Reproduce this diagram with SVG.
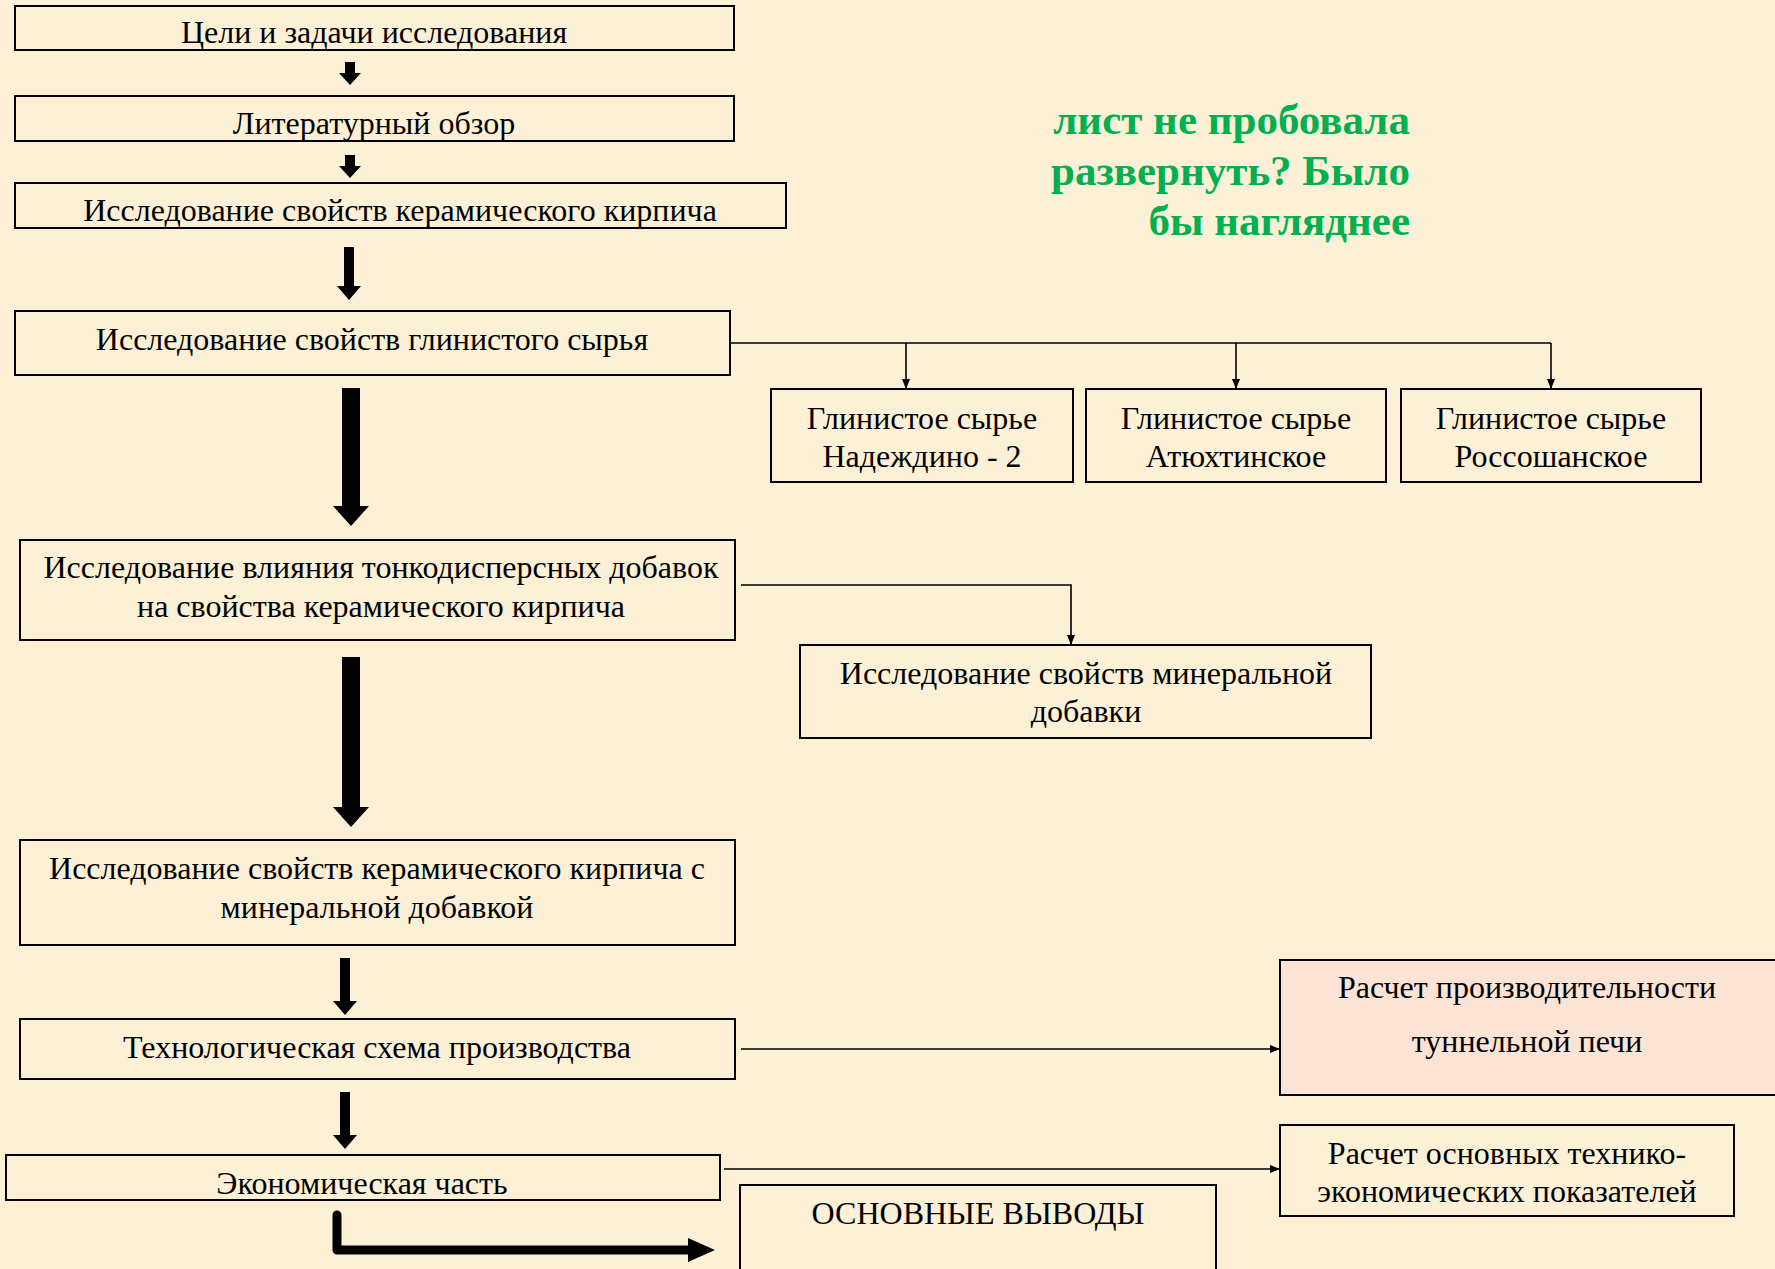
<svg xmlns="http://www.w3.org/2000/svg" width="1775" height="1269" viewBox="0 0 1775 1269">
<defs>
<marker id="ah" viewBox="0 0 10 10" refX="10" refY="5" markerWidth="10" markerHeight="10" markerUnits="userSpaceOnUse" orient="auto">
<path d="M0,1 L10,5 L0,9 Z" fill="#000"/>
</marker>
</defs>
<style>
.box{fill:none;stroke:#000;stroke-width:2}
.t{font-family:"Liberation Serif","Times New Roman",serif;font-size:32px;fill:#000;text-anchor:middle}
.thin{fill:none;stroke:#000;stroke-width:1.6;marker-end:url(#ah)}
.blk{fill:#000}
.note{font-family:"Liberation Serif","Times New Roman",serif;font-size:43px;font-weight:bold;fill:#00B050;text-anchor:end}
</style>
<rect width="1775" height="1269" fill="#FCF0D6"/>

<g id="n1"><rect class="box" x="15" y="6" width="719" height="44"/><text class="t" x="374" y="43">Цели и задачи исследования</text></g>
<g id="n2"><rect class="box" x="15" y="96" width="719" height="45"/><text class="t" x="374" y="134">Литературный обзор</text></g>
<g id="n3"><rect class="box" x="15" y="183" width="771" height="45"/><text class="t" x="400" y="221">Исследование свойств керамического кирпича</text></g>
<g id="n4"><rect class="box" x="15" y="311" width="715" height="64"/><text class="t" x="372" y="350">Исследование свойств глинистого сырья</text></g>
<g id="n5"><rect class="box" x="771" y="389" width="302" height="93"/><text class="t" x="922" y="429">Глинистое сырье</text><text class="t" x="922" y="467">Надеждино - 2</text></g>
<g id="n6"><rect class="box" x="1086" y="389" width="300" height="93"/><text class="t" x="1236" y="429">Глинистое сырье</text><text class="t" x="1236" y="467">Атюхтинское</text></g>
<g id="n7"><rect class="box" x="1401" y="389" width="300" height="93"/><text class="t" x="1551" y="429">Глинистое сырье</text><text class="t" x="1551" y="467">Россошанское</text></g>
<g id="n8"><rect class="box" x="20" y="540" width="715" height="100"/><text class="t" x="381" y="578">Исследование влияния тонкодисперсных добавок</text><text class="t" x="381" y="617">на свойства керамического кирпича</text></g>
<g id="n9"><rect class="box" x="800" y="645" width="571" height="93"/><text class="t" x="1086" y="684">Исследование свойств минеральной</text><text class="t" x="1086" y="722">добавки</text></g>
<g id="n10"><rect class="box" x="20" y="840" width="715" height="105"/><text class="t" x="377" y="879">Исследование свойств керамического кирпича с</text><text class="t" x="377" y="918">минеральной добавкой</text></g>
<g id="n11"><rect class="box" x="20" y="1019" width="715" height="60"/><text class="t" x="377" y="1058">Технологическая схема производства</text></g>
<g id="n12"><rect x="1280" y="960" width="500" height="135" fill="#FBE4D5" stroke="#000" stroke-width="2"/><text class="t" x="1527" y="998">Расчет производительности</text><text class="t" x="1527" y="1052">туннельной печи</text></g>
<g id="n13"><rect class="box" x="6" y="1155" width="714" height="45"/><text class="t" x="362" y="1194">Экономическая часть</text></g>
<g id="n14"><rect class="box" x="1280" y="1125" width="454" height="91"/><text class="t" x="1507" y="1164">Расчет основных технико-</text><text class="t" x="1507" y="1202">экономических показателей</text></g>
<g id="n15"><rect class="box" x="740" y="1185" width="476" height="100"/><text class="t" x="978" y="1224">ОСНОВНЫЕ ВЫВОДЫ</text></g>

<g id="note"><text class="note" x="1410" y="134">лист не пробовала</text><text class="note" x="1410" y="185">развернуть? Было</text><text class="note" x="1410" y="235">бы нагляднее</text></g>

<g id="connectors">
<path class="blk" d="M345,62 H355 V73 H361 L350,85 L339,73 H345 Z"/>
<path class="blk" d="M345,155 H355 V166 H361 L350,178 L339,166 H345 Z"/>
<path class="blk" d="M344,247 H354 V286 H361 L349,300 L337,286 H344 Z"/>
<path class="blk" d="M342,388 H360 V506 H369 L351,526 L333,506 H342 Z"/>
<path class="blk" d="M342,657 H360 V807 H369 L351,827 L333,807 H342 Z"/>
<path class="blk" d="M340,958 H350 V1001 H357 L345,1015 L333,1001 H340 Z"/>
<path class="blk" d="M340,1092 H350 V1135 H357 L345,1149 L333,1135 H340 Z"/>
<path d="M337,1215 V1250 H692" fill="none" stroke="#000" stroke-width="9" stroke-linejoin="round" stroke-linecap="round"/>
<path class="blk" d="M688,1238 L715,1250 L688,1262 Z"/>
<path d="M730,343 H1551" fill="none" stroke="#000" stroke-width="1.6"/>
<path class="thin" d="M906,343 V389"/>
<path class="thin" d="M1236,343 V389"/>
<path class="thin" d="M1551,343 V389"/>
<path class="thin" d="M741,585 H1071 V645"/>
<path class="thin" d="M741,1049 H1280"/>
<path class="thin" d="M724,1169 H1280"/>
</g>
</svg>
